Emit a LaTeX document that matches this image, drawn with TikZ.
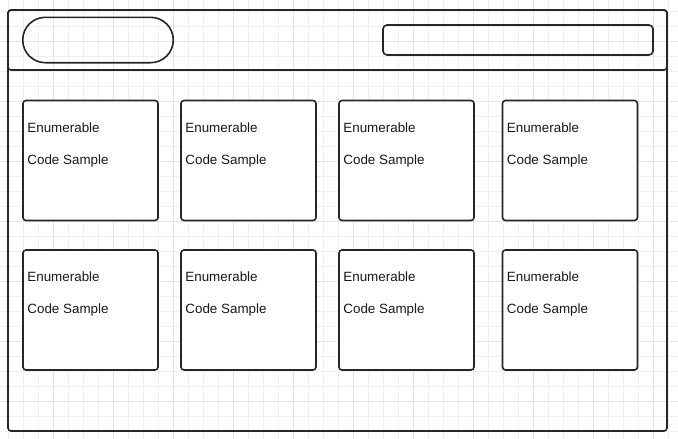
\documentclass[tikz,border=0pt]{standalone}
\usepackage{fontspec}
\setmainfont{Liberation Sans}

\tikzset{
  gridminor/.style={draw=black!6, line width=0.7pt},
  gridmajor/.style={draw=black!10, line width=0.7pt},
  frame/.style={draw=black!85, line width=1.6pt, rounded corners=3pt},
  card/.style={frame, fill=white, minimum width=135pt, minimum height=120pt, inner sep=0pt},
  cardtext/.style={anchor=base west, inner sep=0pt, font=\fontsize{13.4}{16}\selectfont, text=black!90},
}

\begin{document}
\begin{tikzpicture}[x=1pt,y=-1pt]
  \fill[white] (0,0) rectangle (678,439);
  \useasboundingbox (0,0) rectangle (678,439);

  % grid
  \foreach \gx in {0,...,44} \draw[gridminor] (8.3+15*\gx,0) -- (8.3+15*\gx,439);
  \foreach \gy in {0,...,28} \draw[gridminor] (0,11.7+15*\gy) -- (678,11.7+15*\gy);
  \foreach \gx in {0,...,10} \draw[gridmajor] (53.3+60*\gx,0) -- (53.3+60*\gx,439);
  \foreach \gy in {0,...,6} \draw[gridmajor] (0,41.7+60*\gy) -- (678,41.7+60*\gy);

  % window frame and header
  \coordinate (frame-nw) at (8,10);
  \coordinate (frame-se) at (667,431);
  \coordinate (header-se) at (667,70);
  \draw[frame] (frame-nw) rectangle (frame-se);
  \draw[frame] (frame-nw) rectangle (header-se);

  % logo and search box
  \node[frame, minimum width=150.6pt, minimum height=45.4pt, rounded corners=22.7pt, inner sep=0pt] (logo) at (98,40) {};
  \node[frame, minimum width=270pt, minimum height=30pt, rounded corners=4pt, inner sep=0pt] (search) at (518,40) {};

  % cards
  \foreach \col/\cx in {1/90.5, 2/248.5, 3/406.5, 4/570} {
    \foreach \row/\cy in {1/160.5, 2/310} {
      \node[card] (card-\col-\row) at (\cx,\cy) {};
      \node[cardtext] (enum-\col-\row) at ([shift={(5,32.3)}]card-\col-\row.north west) {Enumerable};
      \node[cardtext] (code-\col-\row) at ([shift={(5,64.3)}]card-\col-\row.north west) {Code Sample};
    }
  }
\end{tikzpicture}
\end{document}
